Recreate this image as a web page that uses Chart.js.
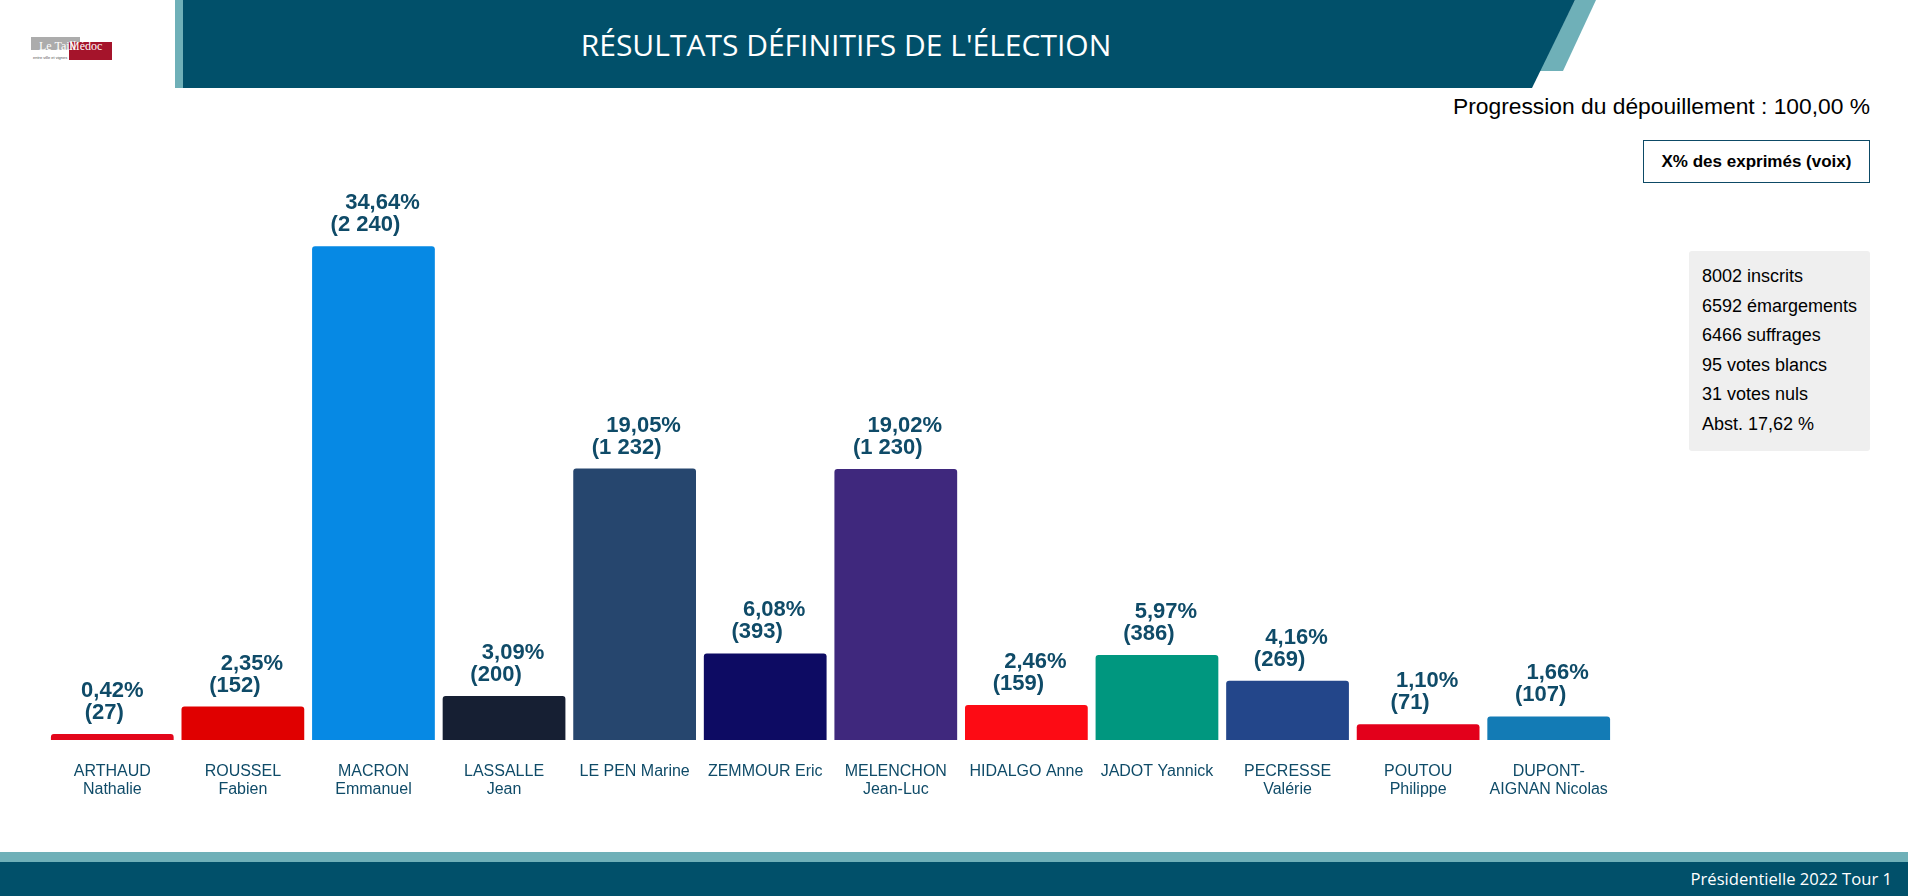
<!DOCTYPE html>
<html lang="fr">
<head>
<meta charset="utf-8">
<title>Résultats définitifs de l'élection</title>
<script src="https://cdn.jsdelivr.net/npm/chart.js@4.4.1/dist/chart.umd.min.js"></script>
<style>
  html, body { margin: 0; padding: 0; background: #fff; }
  body { width: 1908px; height: 896px; position: relative; overflow: hidden; font-family: "Liberation Sans", Arial, sans-serif; }
  .stripe { position: absolute; left: 175px; top: 0; width: 8px; height: 88px; background: #6fb0b8; }
  .band-back { position: absolute; left: 1500px; top: 0; width: 100px; height: 71px; background: #6fb0b8;
    clip-path: polygon(75px 0, 96px 0, 63px 71px, 39px 71px); }
  .band { position: absolute; left: 183px; top: 0; width: 1392px; height: 88px; background: #01506a;
    clip-path: polygon(0 0, 1392px 0, 1349px 88px, 0 88px); }
  .title { position: absolute; left: 183px; top: 0; width: 1326px; height: 88px; line-height: 90px; text-align: center;
    color: #fff; font-family: "Open Sans", sans-serif; font-size: 30px; }
  .logo-gray { position: absolute; left: 31px; top: 37px; width: 49px; height: 13px; background: #acacac; }
  .logo-red { position: absolute; left: 69px; top: 42px; width: 43px; height: 18px; background: #a5142b; }
  .logo-t1, .logo-t2 { position: absolute; top: 39px; color: #fff; font-family: "Liberation Serif", serif; font-size: 12px; line-height: 14px; }
  .logo-t1 { left: 39px; }
  .logo-t2 { left: 69px; }
  .logo-sub { position: absolute; left: 33px; top: 55px; font-size: 4px; color: #555; }
  .progress { position: absolute; right: 38px; top: 93px; font-size: 22.8px; color: #000; }
  .mode { position: absolute; left: 1643px; top: 140px; width: 227px; height: 43px; box-sizing: border-box;
    border: 1px solid #0d4a66; text-align: center; line-height: 41px; font-weight: bold; font-size: 17px; color: #000; }
  .stats { position: absolute; left: 1689px; top: 251px; width: 181px; height: 200px; background: #efefef; border-radius: 3px;
    box-sizing: border-box; padding: 11px 0 0 13px; font-size: 18px; color: #000; }
  .stats div { height: 29.6px; line-height: 29.6px; }
  .foot-light { position: absolute; left: 0; top: 852px; width: 1908px; height: 10px; background: #6fb0b8; }
  .foot { position: absolute; left: 0; top: 862px; width: 1908px; height: 34px; background: #01506a; }
  .foot-text { position: absolute; right: 16px; top: 862px; height: 34px; line-height: 34px; color: #fff;
    font-family: "Open Sans", sans-serif; font-size: 16.6px; }
  .chart-box { position: absolute; left: 0; top: 150px; width: 1661px; height: 700px; }
</style>
</head>
<body>
<div class="stripe"></div>
<div class="band-back"></div>
<div class="band"></div>
<div class="title">RÉSULTATS DÉFINITIFS DE L'ÉLECTION</div>

<div class="logo-gray"></div>
<div class="logo-red"></div>
<div class="logo-t1">Le Taill</div>
<div class="logo-t2">Médoc</div>
<div class="logo-sub">entre ville et vignes</div>

<div class="progress">Progression du dépouillement : 100,00 %</div>
<div class="mode">X% des exprimés (voix)</div>

<div class="stats">
  <div>8002 inscrits</div>
  <div>6592 émargements</div>
  <div>6466 suffrages</div>
  <div>95 votes blancs</div>
  <div>31 votes nuls</div>
  <div>Abst. 17,62 %</div>
</div>

<div class="chart-box"><canvas id="resultsChart"></canvas></div>

<div class="foot-light"></div>
<div class="foot"></div>
<div class="foot-text">Présidentielle 2022 Tour 1</div>

<script>
// Candidates (x axis labels, split on two lines like the original)
const candidates = [
  ["ARTHAUD", "Nathalie"],
  ["ROUSSEL", "Fabien"],
  ["MACRON", "Emmanuel"],
  ["LASSALLE", "Jean"],
  "LE PEN Marine",
  "ZEMMOUR Eric",
  ["MELENCHON", "Jean-Luc"],
  "HIDALGO Anne",
  "JADOT Yannick",
  ["PECRESSE", "Valérie"],
  ["POUTOU", "Philippe"],
  ["DUPONT-", "AIGNAN Nicolas"],
];

// Votes and % of expressed votes
const votes = [27, 152, 2240, 200, 1232, 393, 1230, 159, 386, 269, 71, 107];
const percents = [0.42, 2.35, 34.64, 3.09, 19.05, 6.08, 19.02, 2.46, 5.97, 4.16, 1.10, 1.66];

const barColors = [
  "#e3061b", // Arthaud
  "#e00000", // Roussel
  "#0689e4", // Macron
  "#161f33", // Lassalle
  "#26466e", // Le Pen
  "#0d0b63", // Zemmour
  "#3f287d", // Melenchon
  "#fd0b14", // Hidalgo
  "#00977f", // Jadot
  "#23468a", // Pecresse
  "#e3001b", // Poutou
  "#137bb5", // Dupont-Aignan
];

const labelColor = "#0f4b68";

function frNumber(n) {
  return String(n).replace(/\B(?=(\d{3})+(?!\d))/g, " ");
}

// Two line value label above each bar: "34,64%" then "(2 240)"
const valueLabels = {
  id: "valueLabels",
  afterDatasetsDraw(chart) {
    const ctx = chart.ctx;
    const meta = chart.getDatasetMeta(0);
    ctx.save();
    ctx.font = "bold 22px 'Liberation Sans', Arial, sans-serif";
    ctx.fillStyle = labelColor;
    ctx.textAlign = "center";
    ctx.textBaseline = "middle";
    meta.data.forEach((bar, i) => {
      const pct = percents[i].toFixed(2).replace(".", ",") + "%";
      // first bar's label sits a bit more to the left in the original
      const dx = i === 0 ? -9 : 0;
      ctx.fillText(pct, bar.x + 9 + dx, bar.y - 43);
      ctx.fillText("(" + frNumber(votes[i]) + ")", bar.x - 8, bar.y - 21);
    });
    ctx.restore();
  },
};

new Chart(document.getElementById("resultsChart").getContext("2d"), {
  type: "bar",
  data: {
    labels: candidates,
    datasets: [
      {
        data: votes,
        backgroundColor: barColors,
        borderWidth: 0,
        borderRadius: { topLeft: 3, topRight: 3 },
        borderSkipped: "bottom",
        barPercentage: 0.94,
        categoryPercentage: 1,
      },
    ],
  },
  options: {
    responsive: true,
    maintainAspectRatio: false,
    animation: false,
    layout: { padding: { left: 47, right: 47, top: 39, bottom: 0 } },
    plugins: {
      legend: { display: false },
      tooltip: { enabled: false },
    },
    scales: {
      y: {
        display: false,
        min: 0,
        max: 2500,
      },
      x: {
        grid: { display: false, drawTicks: false },
        border: { display: false },
        ticks: {
          color: labelColor,
          padding: 23,
          maxRotation: 0,
          autoSkip: false,
          font: { family: "'Liberation Sans', Arial, sans-serif", size: 16, lineHeight: 1.125 },
        },
        afterFit(scale) {
          scale.height = 110;
        },
      },
    },
  },
  plugins: [valueLabels],
});
</script>
</body>
</html>
